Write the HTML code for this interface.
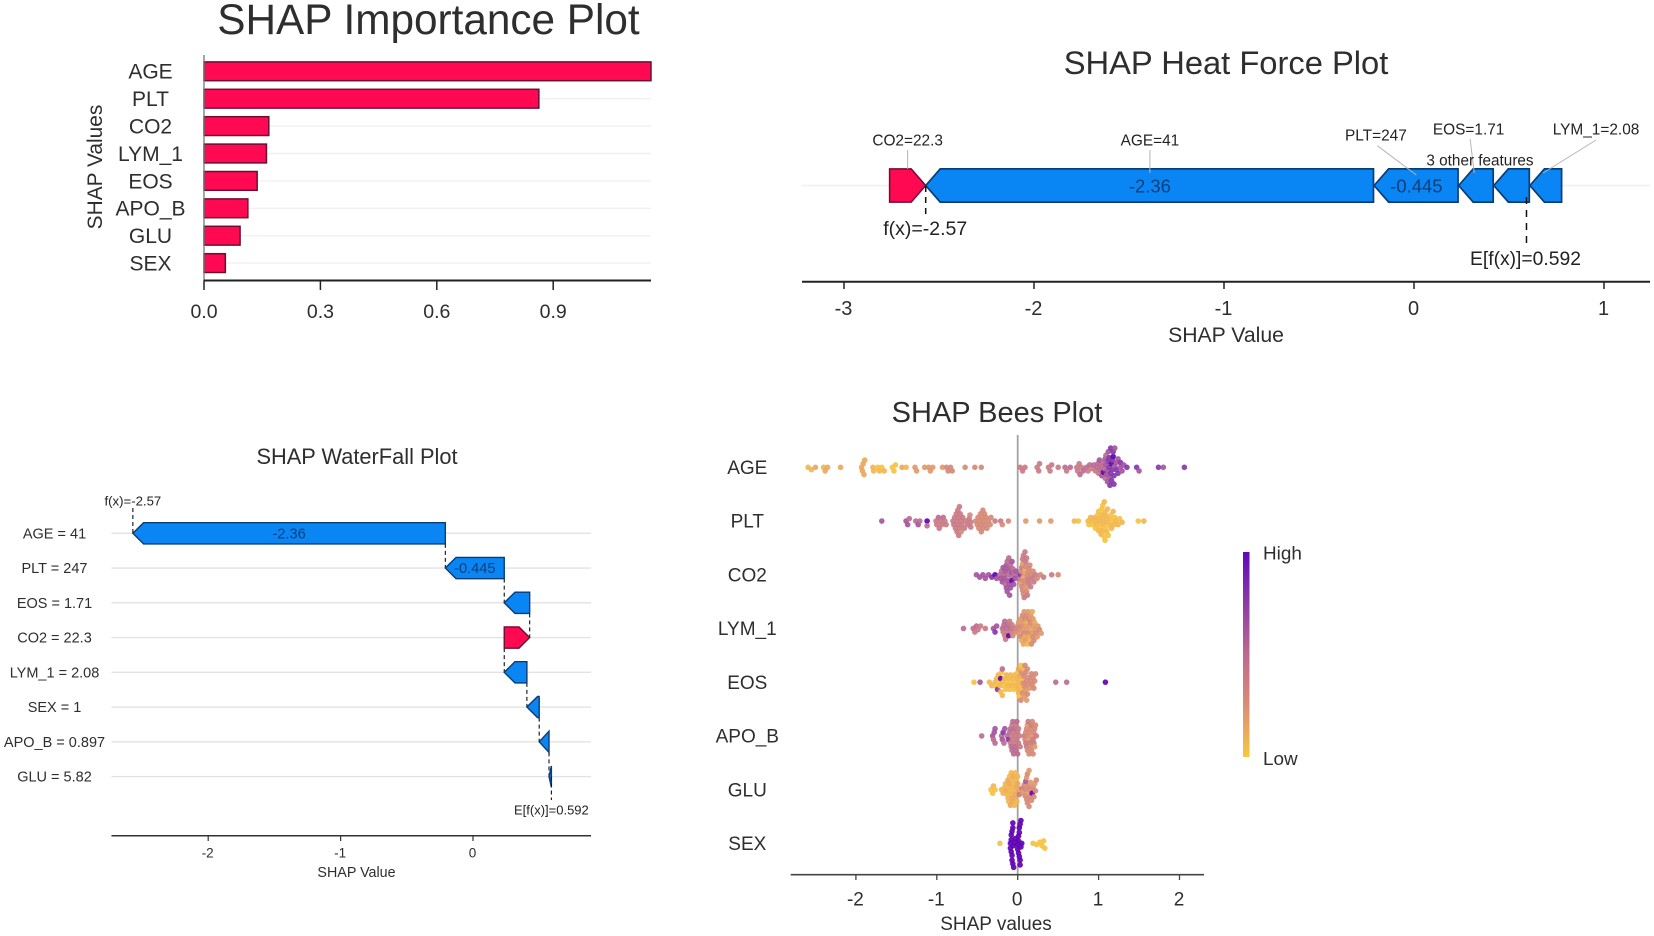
<!DOCTYPE html>
<html lang="en">
<head>
<meta charset="utf-8">
<title>SHAP plots</title>
<style>
html,body{margin:0;padding:0;background:#fff;}
svg{display:block;font-family:"Liberation Sans",sans-serif;filter:blur(0.35px);}
text{fill:#2e2e2e;}
</style>
</head>
<body>
<svg id="root" width="1654" height="936" viewBox="0 0 1654 936" xmlns="http://www.w3.org/2000/svg">
  <defs>
    <linearGradient id="beeGrad" x1="0" y1="0" x2="0" y2="1">
      <stop offset="0" stop-color="#6008b8"/>
      <stop offset="0.25" stop-color="#8e3ba6"/>
      <stop offset="0.5" stop-color="#bd6a8e"/>
      <stop offset="0.75" stop-color="#da8d78"/>
      <stop offset="1" stop-color="#f8c83e"/>
    </linearGradient>
  </defs>
  <rect width="1654" height="936" fill="#ffffff"/>
  <g id="imp">
    <text x="428.5" y="34" font-size="42.3" text-anchor="middle">SHAP Importance Plot</text>
    <text transform="translate(102,167) rotate(-90)" font-size="20.9" text-anchor="middle">SHAP Values</text>
  </g>
  <g id="force">
    <text x="1226" y="74" font-size="32.7" text-anchor="middle">SHAP Heat Force Plot</text>
    <text x="1226" y="342" font-size="21.2" text-anchor="middle">SHAP Value</text>
  </g>
  <g id="fall">
    <text x="357" y="464" font-size="21.8" text-anchor="middle">SHAP WaterFall Plot</text>
    <text x="356.5" y="877" font-size="14.3" text-anchor="middle">SHAP Value</text>
  </g>
  <g id="bee">
    <text x="997" y="422" font-size="29" text-anchor="middle">SHAP Bees Plot</text>
    <text x="996" y="930" font-size="19" text-anchor="middle">SHAP values</text>
    <rect x="1243" y="552" width="6.5" height="205" fill="url(#beeGrad)"/>
    <text x="1263" y="559.5" font-size="18.9">High</text>
    <text x="1263" y="765" font-size="18.9">Low</text>
  </g>
</svg>
<script>
/* ---------- importance chart data ---------- */
const impFeatures = ['AGE','PLT','CO2','LYM_1','EOS','APO_B','GLU','SEX'];
const impValues = [1.152,0.863,0.167,0.161,0.137,0.113,0.093,0.055];
const impTicks = ['0.0','0.3','0.6','0.9'];

/* ---------- force chart data ---------- */
const forceOutput = -2.57;
const forceBase = 0.592;
const forceRedValues = [0.19];
const forceBlueValues = [2.36,0.445,0.185,0.19,0.17];
const forceBlueLabels = ['-2.36','-0.445','','',''];
const forceTicks = ['-3','-2','-1','0','1'];

/* ---------- waterfall chart data ---------- */
const fallFeatures = ['AGE = 41','PLT = 247','EOS = 1.71','CO2 = 22.3','LYM_1 = 2.08','SEX = 1','APO_B = 0.897','GLU = 5.82'];
const fallValues = [-2.36,-0.445,-0.192,0.192,-0.171,-0.093,-0.074,-0.018];
const fallLabels = ['-2.36','-0.445','','','','','',''];
const fallBase = 0.592;
const fallTicks = ['-2','-1','0'];

/* ---------- beeswarm chart data ---------- */
const beeFeatures = ['AGE','PLT','CO2','LYM_1','EOS','APO_B','GLU','SEX'];
const beeTicks = ['-2','-1','0','1','2'];
const ageValues = [-2.59,-2.55,-2.50,-2.40,-2.38,-2.35,-2.19,-1.93,-1.92,-1.91,-1.90,-1.89,-1.79,-1.78,-1.73,-1.71,-1.68,-1.65,-1.55,-1.53,-1.51,-1.43,-1.38,-1.27,-1.25,-1.15,-1.10,-1.08,-1.05,-.93,-.88,-.86,-.83,-.81,-.65,-.53,-.45,
 .03,.06,.09,.24,.26,.27,.38,.40,.42,.50,.585,.605,.65,
 .73,.74,.76,.77,.79,.81,.85,.87,.89,.92,.94,.96,.98,.99,1.0,1.01,1.02,1.03,1.04,1.05,1.06,1.07,1.08,1.08,1.09,1.09,1.10,1.11,1.11,1.12,1.12,1.13,1.13,1.14,1.14,1.15,1.15,1.16,1.16,1.17,1.17,1.18,1.18,1.19,1.19,1.20,1.20,1.22,1.22,1.24,1.24,1.27,1.27,1.29,1.31,1.35,1.47,1.50,1.74,1.80,2.06];
const ageLevels = [1,1,2,1,2,2,2,2,2,2,2,2,1,1,0,1,0,1,0,0,0,2,1,3,3,3,3,3,3,3,4,4,4,4,4,4,4,
 5,5,5,5,5,5,5,5,5,5,6,5,6,
 5,5,5,6,5,6,6,5,6,5,6,5,6,6,5,7,6,6,7,6,9,6,7,6,7,6,7,7,7,8,7,8,8,7,8,8,8,9,8,8,8,9,8,8,8,7,7,8,7,8,7,7,8,7,7,8,8,7,8,7,8,8];
const pltValues = [-1.68,-1.38,-1.36,-1.34,-1.26,-1.23,-1.21,-1.12,-1.12,
 -1.01,-1.00,-.98,-.97,-.95,-.94,-.92,-.90,-.885,
 -.80,-.79,-.78,-.77,-.76,-.75,-.75,-.74,-.74,-.73,-.73,-.72,-.72,-.71,-.70,-.70,-.69,-.68,-.66,-.64,-.62,-.60,-.59,-.58,-.58,
 -.52,-.50,-.49,-.48,-.47,-.46,-.45,-.45,-.44,-.43,-.43,-.42,-.41,-.40,-.39,-.38,-.36,-.34,-.33,
 -.28,-.21,-.19,-.115,.10,.27,.41,.70,.75,
 .87,.88,.90,.92,.93,.95,.96,.97,.98,.99,1.0,1.0,1.01,1.02,1.02,1.03,1.04,1.04,1.05,1.05,1.06,1.06,1.07,1.07,1.08,1.08,1.09,1.09,1.10,1.10,1.11,1.12,1.13,1.14,1.15,1.16,1.17,1.18,1.19,1.20,1.22,1.24,1.26,1.29,
 1.49,1.56];
const pltLevels = [7,7,7,6,6,7,6,9,6,
 5,5,6,5,5,5,6,5,5,
 5,5,5,5,5,5,5,5,5,5,5,5,5,5,5,4,5,5,5,5,5,5,4,5,5,
 4,4,4,4,4,4,4,4,4,4,4,4,4,4,4,4,4,4,4,
 5,5,4,4,3,3,3,1,0,
 1,0,1,1,0,1,0,1,1,0,1,0,1,1,0,1,1,0,1,0,1,1,0,1,1,0,1,0,1,1,1,0,1,1,0,1,0,1,1,0,1,1,0,1,
 0,1];
const co2Values = [-.51,-.47,-.43,-.40,-.36,-.32,-.28,-.26,
 -.22,-.21,-.20,-.19,-.18,-.17,-.16,-.15,-.15,-.14,-.14,-.13,-.13,-.12,-.12,-.11,-.11,-.10,-.10,-.09,-.09,-.08,-.08,-.07,-.07,-.06,-.05,-.04,-.03,-.02,
 .03,.03,.04,.04,.05,.05,.06,.06,.06,.07,.07,.07,.08,.08,.08,.09,.09,.09,.10,.10,.10,.11,.11,.12,.12,.13,.13,.14,.14,.15,.16,.17,.18,.19,.20,.22,.24,.28,.32,.42,.50];
const co2Levels = [7,7,7,7,7,8,9,7,
 6,7,6,7,7,6,7,7,6,7,7,6,7,6,7,7,6,7,7,6,7,6,7,9,7,6,7,6,7,7,
 8,5,4,3,5,4,3,4,5,2,4,5,3,4,5,2,4,5,4,3,5,4,5,4,5,4,5,4,5,4,5,4,5,4,5,5,4,4,5,5,4];
const lymValues = [-.67,-.55,-.53,-.51,-.49,-.46,-.40,-.30,-.28,-.26,
 -.19,-.18,-.17,-.16,-.16,-.15,-.14,-.13,-.12,-.11,-.10,-.09,-.08,-.07,-.06,-.04,-.02,
 .0,.01,.02,.03,.04,.04,.05,.05,.06,.06,.07,.07,.08,.08,.09,.09,.10,.10,.11,.11,.12,.12,.13,.13,.14,.14,.15,.15,.16,.16,.17,.17,.18,.18,.19,.19,.20,.20,.21,.22,.23,.24,.25,.27,.29];
const lymLevels = [6,6,5,6,5,5,5,7,8,7,
 6,5,6,5,6,5,6,5,6,9,5,6,5,5,4,5,4,
 4,3,4,3,4,3,4,2,3,4,3,2,4,3,2,4,3,3,2,4,3,1,4,3,2,4,3,1,4,3,2,4,3,2,4,3,3,4,2,3,4,3,3,4,3,3];
const eosValues = [-.54,-.465,-.35,-.32,-.28,-.27,-.26,-.25,-.24,-.23,-.22,-.21,-.21,-.20,-.19,-.19,-.18,-.17,-.16,-.15,-.14,-.13,-.12,-.11,-.10,-.09,-.08,-.07,-.06,-.05,-.04,-.03,-.02,-.01,
 .0,.0,.01,.01,.02,.02,.03,.03,.04,.04,.05,.05,.06,.06,.07,.07,.08,.08,.09,.09,.10,.10,.11,.11,.12,.12,.13,.14,.15,.16,.17,.18,.19,.20,.21,.22,
 .47,.605,1.084];
const eosLevels = [0,7,1,1,1,0,1,8,1,0,1,9,1,0,1,6,1,0,1,0,1,0,1,1,0,1,0,1,1,0,1,0,1,1,
 1,0,1,2,1,0,1,2,0,4,1,4,1,4,4,1,4,3,4,4,3,4,4,3,4,4,4,4,3,4,4,4,4,4,4,4,
 6,6,9];
const apoValues = [-.445,-.31,-.30,-.29,-.28,-.28,-.20,-.19,-.18,-.17,-.16,-.13,-.115,
 -.10,-.09,-.09,-.08,-.08,-.07,-.07,-.06,-.06,-.05,-.05,-.04,-.04,-.03,-.03,-.02,-.02,-.01,-.01,.0,.0,.01,.01,.02,.03,
 .08,.09,.10,.10,.11,.11,.12,.12,.13,.13,.14,.14,.15,.15,.16,.16,.17,.17,.18,.18,.19,.19,.20,.20,.21,.21,.22,.23];
const apoLevels = [6,7,6,7,6,7,6,7,8,6,7,6,8,
 6,5,6,5,6,5,6,5,6,5,6,5,6,5,6,5,6,5,6,5,6,5,5,5,5,
 5,4,4,5,4,5,3,4,4,5,3,4,4,5,4,4,5,4,3,4,5,4,4,5,4,3,4,5];
const gluValues = [-.33,-.31,-.30,-.28,-.20,-.18,-.16,-.15,-.14,-.13,-.12,-.12,-.11,-.11,-.10,-.10,-.09,-.09,-.08,-.08,-.07,-.07,-.06,-.06,-.05,-.05,-.04,-.04,-.03,-.03,-.02,-.02,-.01,-.01,.0,.0,.01,.02,
 .05,.06,.08,.09,.10,.10,.11,.11,.12,.12,.13,.13,.14,.14,.15,.15,.16,.17,.18,.19,.20,.21,.22,.23];
const gluLevels = [0,0,1,0,1,1,1,1,2,1,1,2,1,1,2,1,1,2,1,1,2,1,1,2,1,2,1,1,2,1,2,1,2,1,2,1,2,5,
 5,3,4,4,4,7,4,3,4,4,3,4,4,3,4,4,3,4,9,4,4,3,4,4];
const sexValues = [-.22,-.09,-.09,-.08,-.08,-.08,-.07,-.07,-.07,-.06,-.06,-.06,-.05,-.05,-.04,-.03,
 .0,.0,.01,.01,.01,.02,.02,.02,.03,.03,.03,.04,.04,.05,
 .19,.235,.275,.30,.32,.335];
const sexLevels = [0,9,9,9,9,9,9,9,9,9,9,9,9,9,9,9,
 9,9,9,9,9,9,9,9,9,9,9,9,9,9,
 0,0,0,0,0,0];
const beeValues = [ageValues,pltValues,co2Values,lymValues,eosValues,apoValues,gluValues,sexValues];
const beeLevels = [ageLevels,pltLevels,co2Levels,lymLevels,eosLevels,apoLevels,gluLevels,sexLevels];
const levelColors = ['#f6c244','#f2b650','#eaa85c','#e09a6a','#d68a78','#c97c86','#bb6c92','#a4569e','#8438ab','#5f02b4'];

/* ---------- helpers ---------- */
const NS = 'http://www.w3.org/2000/svg';
function make(parent, tag, attrs) {
  const el = document.createElementNS(NS, tag);
  for (const k in attrs) el.setAttribute(k, attrs[k]);
  parent.appendChild(el);
  return el;
}
function write(parent, str, x, y, size, anchor, fill) {
  const el = make(parent, 'text', {x: x, y: y + size * 0.35, 'font-size': size, 'text-anchor': anchor || 'middle'});
  if (fill) el.style.fill = fill;
  el.textContent = str;
  return el;
}
function seg(parent, x1, y1, x2, y2, stroke, width, dash) {
  const attrs = {x1: x1, y1: y1, x2: x2, y2: y2, stroke: stroke, 'stroke-width': width};
  if (dash) attrs['stroke-dasharray'] = dash;
  return make(parent, 'line', attrs);
}
function leftArrow(x0, x1, cy, half, s) {
  const sh = Math.min(s, x1 - x0);
  return [[x0,cy],[x0+sh,cy-half],[x1,cy-half],[x1,cy+half],[x0+sh,cy+half]].map(p => p.join(',')).join(' ');
}
function rightArrow(x0, x1, cy, half, s) {
  const sh = Math.min(s, x1 - x0);
  return [[x0,cy-half],[x1-sh,cy-half],[x1,cy],[x1-sh,cy+half],[x0,cy+half]].map(p => p.join(',')).join(' ');
}
const BLUE = '#0a85f4', BLUE_EDGE = '#0b3d75', RED = '#ff0a52', RED_EDGE = '#6e0c34', LABEL_BLUE = '#0d3f7a';

/* ---------- importance chart ---------- */
(function () {
  const g = document.getElementById('imp');
  const xImp = v => 204 + v * 388;
  const yImp = i => 71.3 + i * 27.4;
  const right = 651, axisY = 280.5;
  impFeatures.forEach((name, i) => {
    const grid = seg(g, 204, yImp(i), right, yImp(i), '#f0f0f0', 1.4);
    
    
    const bar = make(g, 'rect', {x: xImp(0), y: yImp(i) - 9.4, width: Math.min(xImp(impValues[i]), right) - xImp(0), height: 18.8, fill: RED, stroke: RED_EDGE, 'stroke-width': 1.5});
    
    
    const lab = write(g, name, 150.5, yImp(i), 21);
    
    
  });
  const yAxis = seg(g, 204, 55, 204, axisY, '#777', 1.3);
  
  
  const xAxis = seg(g, 204, axisY, right, axisY, '#222', 2);
  
  
  impTicks.forEach(t => {
    const tick = seg(g, xImp(+t), axisY, xImp(+t), 290, '#222', 1.5);
    
    
    const lab = write(g, t, xImp(+t), 311, 19.5);
    
    
  });
})();

/* ---------- force chart ---------- */
(function () {
  const g = document.getElementById('force');
  const xF = v => 1414 + v * 190;
  const cy = 185.5, half = 16.6, s = 14.5;
  const base = seg(g, 802, cy, 1650, cy, '#efefef', 1.5);
  
  
  const red = make(g, 'polygon', {points: rightArrow(xF(forceOutput - forceRedValues[0]), xF(forceOutput), cy, half, s), fill: RED, stroke: RED_EDGE, 'stroke-width': 1.5});
  
  
  let cur = forceOutput;
  const spans = [];
  forceBlueValues.forEach((v, i) => {
    const next = cur + v;
    const poly = make(g, 'polygon', {points: leftArrow(xF(cur), xF(next) - 0.6, cy, half, s), fill: BLUE, stroke: BLUE_EDGE, 'stroke-width': 1.7});
    
    
    spans.push((xF(cur) + xF(next)) / 2);
    if (forceBlueLabels[i]) {
      const lab = write(g, forceBlueLabels[i], spans[i], cy + 0.5, 18.4, 'middle', LABEL_BLUE);
      
      
    }
    cur = next;
  });
  function callout(text, labelX, labelY, fromY, toX, toY) {
    const line = seg(g, labelX + (toX > labelX + 5 ? 1.5 : 0), fromY, toX, toY, '#b5b5b5', 1);
    
    
    const lab = write(g, text, labelX, labelY, 15.4, 'middle', '#222');
    
    
  }
  const redMid = (xF(forceOutput - forceRedValues[0]) + xF(forceOutput)) / 2;
  callout('CO2=22.3', redMid, 140, 150, redMid, 169);
  callout('AGE=41', spans[0], 140, 150, spans[0], 173);
  callout('PLT=247', spans[1] - 40.5, 135, 145.7, spans[1], 175);
  callout('EOS=1.71', spans[2] - 7.6, 129, 139, spans[2] - 2, 173);
  callout('LYM_1=2.08', spans[4] + 50, 129, 140, spans[4] - 3, 173);
  const other = write(g, '3 other features', 1480, 160, 15.3, 'middle', '#222');
  
  
  const fd = seg(g, xF(forceOutput), 186, xF(forceOutput), 216, '#111', 1.5, '6 5');
  
  
  const fl = write(g, 'f(x)=' + forceOutput, xF(forceOutput) - 0.5, 228, 19.5, 'middle', '#222');
  
  
  const bd = seg(g, xF(forceBase), 197, xF(forceBase), 246, '#111', 1.5, '7 6');
  
  
  const bl = write(g, 'E[f(x)]=' + forceBase, xF(forceBase) - 1, 258, 19.3, 'middle', '#222');
  
  
  const ax = seg(g, 802, 281.7, 1650, 281.7, '#222', 2);
  
  
  forceTicks.forEach(t => {
    const tick = seg(g, xF(+t), 281.7, xF(+t), 289, '#222', 1.5);
    
    
    const lab = write(g, t, xF(+t) - 0.5, 308, 20);
    
    
  });
})();

/* ---------- waterfall chart ---------- */
(function () {
  const g = document.getElementById('fall');
  const xW = v => 473 + v * 132.4;
  const yW = i => 533.3 + i * 34.75;
  const half = 10.6, s = 10.7;
  const starts = [], ends = [];
  let cur = fallBase;
  for (let i = fallValues.length - 1; i >= 0; i--) {
    starts[i] = cur;
    cur += fallValues[i];
    ends[i] = cur;
  }
  fallFeatures.forEach((name, i) => {
    const grid = seg(g, 111.5, yW(i), 591, yW(i), '#e2e2e2', 1.4);
    
    
    const lab = write(g, name, 54.5, yW(i), 14.5);
    
    
  });
  fallFeatures.forEach((name, i) => {
    if (i < fallFeatures.length - 1) {
      const dash = seg(g, xW(starts[i]), yW(i) + half, xW(starts[i]), yW(i + 1), '#111', 1.1, '4 3');
      
      
    }
    const v = fallValues[i];
    const pts = v < 0 ? leftArrow(xW(ends[i]), xW(starts[i]), yW(i), half, s) : rightArrow(xW(starts[i]), xW(ends[i]), yW(i), half, s);
    const poly = make(g, 'polygon', {points: pts, fill: v < 0 ? BLUE : RED, stroke: v < 0 ? BLUE_EDGE : RED_EDGE, 'stroke-width': 1.4});
    
    
    if (fallLabels[i]) {
      const lab = write(g, fallLabels[i], (xW(starts[i]) + xW(ends[i])) / 2, yW(i), 14.6, 'middle', LABEL_BLUE);
      
      
    }
  });
  const last = fallFeatures.length - 1;
  const fd = seg(g, xW(ends[0]), 508, xW(ends[0]), yW(0), '#111', 1.1, '4 3');
  
  
  const fl = write(g, 'f(x)=-2.57', xW(ends[0]), 500.7, 13.2, 'middle', '#222');
  
  
  const bd = seg(g, xW(fallBase), yW(last), xW(fallBase), 800, '#111', 1.1, '4 3');
  
  
  const bl = write(g, 'E[f(x)]=' + fallBase, xW(fallBase), 810, 13, 'middle', '#222');
  
  
  const ax = seg(g, 111.5, 835.7, 591, 835.7, '#333', 1.5);
  
  
  fallTicks.forEach(t => {
    const tick = seg(g, xW(+t), 835.7, xW(+t), 841, '#333', 1.2);
    
    
    const lab = write(g, t, xW(+t) - 0.5, 853, 13.5);
    
    
  });
})();

/* ---------- beeswarm chart ---------- */
(function () {
  const g = document.getElementById('bee');
  const xB = v => 1017.7 + v * 80.9;
  const yB = i => 467.3 + i * 53.72;
  const axisY = 874.7;
  const zero = seg(g, xB(0), 435, xB(0), axisY, '#a3a3a3', 1.8);
  
  
  const minDist = 3.65, step = 1.2;
  beeFeatures.forEach((name, i) => {
    const lab = write(g, name, 747.3, yB(i), 19);
    
    
    const values = beeValues[i], levels = beeLevels[i];
    const order = values.map((_, k) => k).sort((a, b) => values[a] - values[b]);
    const placed = [];
    const offsets = [];
    order.forEach(k => {
      const px = xB(values[k]);
      for (let n = 0; n < 100; n++) {
        const off = n === 0 ? 0 : ((n + 1) >> 1) * step * (n % 2 ? 1 : -1);
        if (placed.every(p => Math.hypot(p[0] - px, p[1] - off) >= minDist)) {
          placed.push([px, off]);
          offsets[k] = off;
          break;
        }
      }
    });
    values.forEach((v, k) => {
      const lvl = levels[k] === undefined ? 5 : levels[k];
      const dot = make(g, 'circle', {cx: xB(v), cy: yB(i) + (offsets[k] || 0), r: 2.8, fill: levelColors[lvl], 'fill-opacity': 0.92});
      
      
    });
  });
  const ax = seg(g, 790.7, axisY, 1204, axisY, '#444', 1.6);
  
  
  beeTicks.forEach(t => {
    const tick = seg(g, xB(+t), axisY, xB(+t), 880, '#444', 1.3);
    
    
    const lab = write(g, t, xB(+t) - 0.5, 899, 19);
    
    
  });
})();
</script>
</body>
</html>
